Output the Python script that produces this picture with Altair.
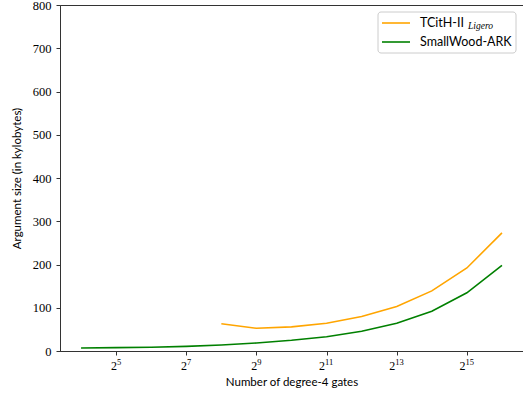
import altair as alt
import pandas as pd

# ---- data ----
smallwood_gates = [2**k for k in range(4, 17)]
smallwood_size = [7, 7.7, 8.5, 10.8, 14, 18.6, 24.7, 33, 45.6, 64, 92, 134.5, 198]
tcith_gates = [2**k for k in range(8, 17)]
tcith_size = [63, 52.5, 55.7, 64, 79.6, 103, 139, 192, 273]
series_names = ["TCitH-II_Ligero", "SmallWood-ARK"]
colors = ["#FFA500", "#008000"]
x_tick_exponents = [5, 7, 9, 11, 13, 15]
x_ticks = [2**k for k in x_tick_exponents]
y_ticks = list(range(0, 801, 100))

df = pd.concat([
    pd.DataFrame({"gates": tcith_gates, "size": tcith_size, "series": series_names[0]}),
    pd.DataFrame({"gates": smallwood_gates, "size": smallwood_size, "series": series_names[1]}),
])
ticks_df = pd.DataFrame({"gates": x_ticks, "exp": [str(k) for k in x_tick_exponents],
                         "nd": [len(str(k)) for k in x_tick_exponents]})

W, H = 463, 346
serif = "Liberation Serif"
sans = "Lato"

xscale = alt.Scale(type="log", base=2, domain=[2**3.4, 2**16.6], nice=False, zero=False)

lines = alt.Chart(df).mark_line(strokeWidth=1.6, clip=True).encode(
    x=alt.X("gates:Q", scale=xscale,
            axis=alt.Axis(values=x_ticks, labels=False, title="Number of degree-4 gates",
                          grid=False, tickSize=4, titlePadding=21)),
    y=alt.Y("size:Q",
            scale=alt.Scale(domain=[0, 800], nice=False, zero=True),
            axis=alt.Axis(values=y_ticks, title="Argument size (in kylobytes)",
                          grid=False, tickSize=4, labelPadding=5, titlePadding=10)),
    color=alt.Color("series:N", scale=alt.Scale(domain=series_names, range=colors), legend=None),
)

# x tick labels: base "2" with superscript exponent
def base_layer(nd, dx):
    return alt.Chart(ticks_df).transform_filter(f"datum.nd == {nd}").mark_text(
        align="left", baseline="alphabetic", font=serif, fontSize=12, color="black", dx=dx
    ).encode(x=alt.X("gates:Q", scale=xscale), y=alt.value(H + 19), text=alt.value("2"))

def exp_layer(nd, dx):
    return alt.Chart(ticks_df).transform_filter(f"datum.nd == {nd}").mark_text(
        align="left", baseline="alphabetic", font=serif, fontSize=8.5, color="black", dx=dx
    ).encode(x=alt.X("gates:Q", scale=xscale), y=alt.value(H + 14), text="exp:N")

labels = [base_layer(1, -5.2), exp_layer(1, 0.8), base_layer(2, -7.5), exp_layer(2, -1.5)]

one = pd.DataFrame({"a": [0]})
box = alt.Chart(one).mark_rect(fill="white", stroke="#cccccc", strokeWidth=1, cornerRadius=3).encode(
    x=alt.value(318), x2=alt.value(456), y=alt.value(7), y2=alt.value(48))
rule1 = alt.Chart(one).mark_rule(strokeWidth=1.6, color=colors[0]).encode(
    x=alt.value(322), x2=alt.value(350), y=alt.value(18))
rule2 = alt.Chart(one).mark_rule(strokeWidth=1.6, color=colors[1]).encode(
    x=alt.value(322), x2=alt.value(350), y=alt.value(37))
t1 = alt.Chart(one).mark_text(align="left", baseline="middle", font=sans, fontSize=12.5, color="black").encode(
    x=alt.value(360), y=alt.value(18), text=alt.value("TCitH-II"))
t1s = alt.Chart(one).mark_text(align="left", baseline="middle", font=serif, fontSize=9.5, fontStyle="italic",
                               color="black").encode(
    x=alt.value(408), y=alt.value(21), text=alt.value("Ligero"))
t2 = alt.Chart(one).mark_text(align="left", baseline="middle", font=sans, fontSize=12.5, color="black").encode(
    x=alt.value(360), y=alt.value(37), text=alt.value("SmallWood-ARK"))

chart = alt.layer(lines, *labels, box, rule1, rule2, t1, t1s, t2).properties(
    width=W, height=H,
    autosize=alt.AutoSizeParams(type="none"),
    padding={"left": 60, "top": 5, "right": 0, "bottom": 45},
).configure_view(
    stroke="#333333", strokeWidth=1
).configure_axis(
    domainColor="#333333", tickColor="#333333", labelColor="black", titleColor="black",
    labelFont=serif, labelFontSize=12.5, titleFont=sans, titleFontSize=11.5, titleFontWeight="normal",
)

chart.save("out.html", embed_options={"renderer": "svg", "actions": False})
